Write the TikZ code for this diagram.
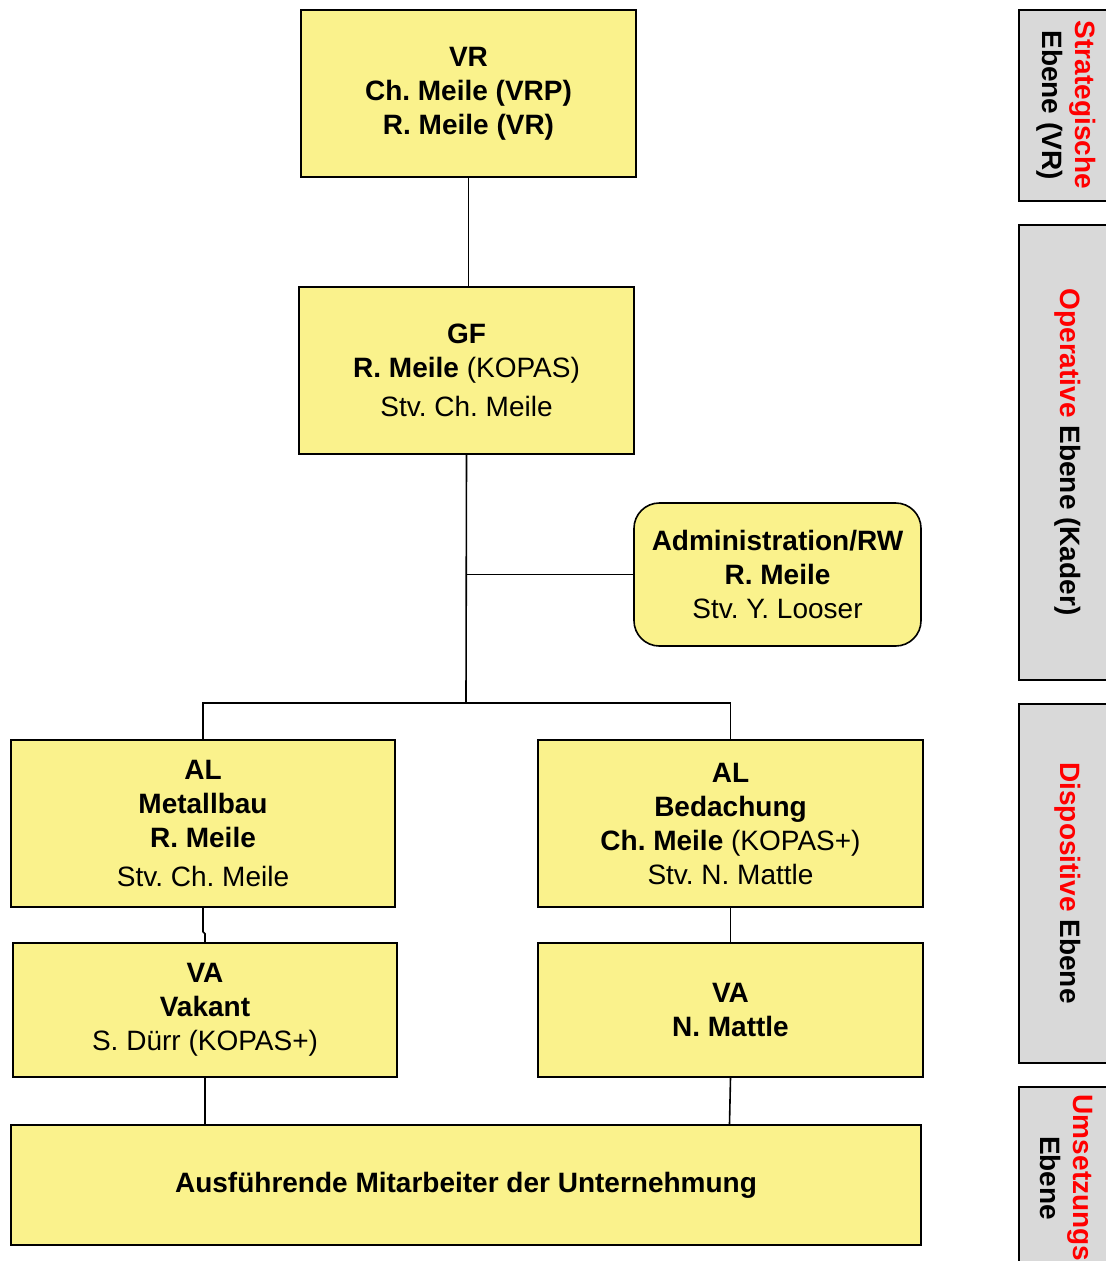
\documentclass[tikz,border=0pt]{standalone}
\usepackage{fontspec}
\setmainfont{Liberation Sans}
\frenchspacing
\definecolor{boxyellow}{HTML}{FAF28C}
\definecolor{bargray}{HTML}{D9D9D9}
\definecolor{lvlred}{HTML}{FF0000}
\begin{document}
\frenchspacing
\begin{tikzpicture}[x=0.75pt,y=-0.75pt,
  box/.style={draw=black, line width=1.2pt, fill=boxyellow, inner sep=0pt, align=center,
    font=\fontsize{21}{25.5}\selectfont\frenchspacing},
  rbox/.style={box, rounded corners=19pt},
  bar/.style={draw=black, line width=1.2pt, fill=bargray},
  bartext/.style={rotate=-90, align=center, inner sep=0pt, font=\fontsize{21}{25}\selectfont\bfseries},
  conn/.style={draw=black, line width=1.2pt}]
\useasboundingbox (0,0) rectangle (1106,1261);

% level bars
\draw[bar] (1019,10) rectangle (1125,201);
\draw[bar] (1019,225) rectangle (1125,680);
\draw[bar] (1019,704) rectangle (1125,1063);
\draw[bar] (1019,1087) rectangle (1125,1290);
\node[bartext] (t1) at (1066.5,105) {\textcolor{lvlred}{Strategische}\\Ebene (VR)};
\node[bartext] (t2) at (1068,452) {\textcolor{lvlred}{Operative} Ebene (Kader)};
\node[bartext] (t3) at (1068,883) {\textcolor{lvlred}{Dispositive} Ebene};
\node[bartext] (t4) at (1066.5,1178) {\textcolor{lvlred}{Umsetzungs}\\Ebene};

% boxes
\node[box, minimum width=251.25pt, minimum height=125.25pt] (vr) at (468.5,93.5)
  {\textbf{VR}\\\textbf{Ch. Meile (VRP)}\\\textbf{R. Meile (VR)}};
\node[box, minimum width=251.25pt, minimum height=125.25pt] (gf) at (466.5,370.5)
  {\textbf{GF}\\\textbf{R. Meile} (KOPAS)\\[3.5pt]Stv. Ch. Meile};
\node[rbox, minimum width=215.25pt, minimum height=107.25pt] (adm) at (777.5,574.5)
  {\textbf{Administration/RW}\\\textbf{R. Meile}\\Stv. Y. Looser};
\node[box, minimum width=288pt, minimum height=125.25pt] (alm) at (203,823.5)
  {\textbf{AL}\\\textbf{Metallbau}\\\textbf{R. Meile}\\[3.5pt]Stv. Ch. Meile};
\node[box, minimum width=288.75pt, minimum height=125.25pt] (alb) at (730.5,823.5)
  {\textbf{AL}\\\textbf{Bedachung}\\\textbf{Ch. Meile} (KOPAS+)\\Stv. N. Mattle};
\node[box, minimum width=288pt, minimum height=100.5pt] (vav) at (205,1010)
  {\textbf{VA}\\\textbf{Vakant}\\S. Dürr (KOPAS+)};
\node[box, minimum width=288.75pt, minimum height=100.5pt] (vam) at (730.5,1010)
  {\textbf{VA}\\\textbf{N. Mattle}};
\node[box, minimum width=682.5pt, minimum height=90pt] (mit) at (466,1185)
  {\textbf{Ausführende Mitarbeiter der Unternehmung}};

% connectors
\coordinate (j1) at (466,574.5);
\coordinate (j2) at (466,703);
\draw[conn] (vr.south) -- (vr.south |- gf.north);
\draw[conn] (gf.south) -- (j2);
\draw[conn] (j1) -- (adm.west);
\draw[conn] (j2) -| (alm.north);
\draw[conn] (j2) -| (alb.north);
\draw[conn] (alm.south) -- ++(0,24) -- ++(2,2) -- (vav.north);
\draw[conn] (alb.south) -- (vam.north);
\draw[conn] (vav.south) -- (vav.south |- mit.north);
\draw[conn] (vam.south) -- ([xshift=-0.75pt]vam.south |- mit.north);
\end{tikzpicture}
\end{document}
